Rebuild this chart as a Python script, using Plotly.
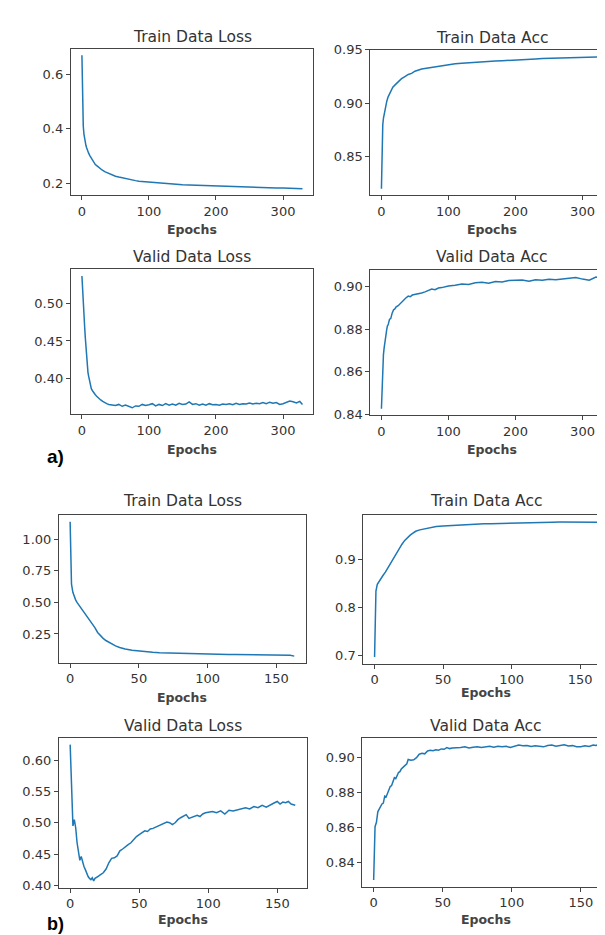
import plotly.graph_objects as go

# ---------------- data: panel a ----------------
a_train_loss_ep = [0,1,2,3,4,5,6,7,8,10,12,14,16,18,20,23,26,30,34,38,42,46,50,55,60,65,70,75,80,85,90,95,100,
                   110,120,130,140,150,160,170,180,190,200,210,220,230,240,250,260,270,280,290,300,310,320,329]
a_train_loss = [0.670,0.460,0.410,0.380,0.362,0.350,0.338,0.330,0.322,0.310,0.300,0.291,0.283,0.276,0.268,
                0.262,0.255,0.248,0.242,0.237,0.233,0.229,0.225,0.222,0.219,0.216,0.213,0.211,0.209,0.207,
                0.206,0.204,0.202,0.200,0.198,0.197,0.195,0.194,0.193,0.192,0.191,0.190,0.189,0.188,0.188,
                0.186,0.186,0.185,0.184,0.184,0.183,0.182,0.182,0.181,0.180,0.179]

a_train_acc_ep = [0,1,2,3,4,5,6,8,10,12,14,17,20,25,30,35,40,45,50,60,70,80,90,100,110,120,130,140,150,160,
                  170,180,190,200,210,220,230,240,250,260,270,280,290,300,310,320,329]
a_train_acc = [0.820,0.868,0.880,0.886,0.890,0.894,0.897,0.902,0.906,0.909,0.912,0.915,0.917,0.920,0.923,
               0.925,0.927,0.928,0.930,0.932,0.933,0.9345,0.9355,0.936,0.937,0.9375,0.938,0.9385,0.939,
               0.9393,0.9395,0.9398,0.940,0.9405,0.941,0.9412,0.9415,0.9418,0.942,0.9423,0.9425,0.9428,
               0.943,0.9432,0.9433,0.9436,0.9434]

a_valid_loss_ep = [0,1,2,3,4,5,6,7,8,9,10,12,14,16,18,20,22,25,28,31,34,37,40,
                   45,50,55,60,65,70,75,80,85,90,95,100,105,110,115,120,125,130,135,140,145,150,155,160,
                   165,170,175,180,185,190,195,200,205,210,215,220,225,230,235,240,245,250,255,260,265,
                   270,275,280,285,290,295,300,305,310,315,320,325,329]
a_valid_loss = [0.537,0.515,0.500,0.488,0.470,0.455,0.440,0.425,0.414,0.408,0.403,0.394,0.386,0.383,0.380,
                0.378,0.376,0.373,0.371,0.369,0.367,0.366,0.365,
                0.364,0.3635,0.365,0.3625,0.364,0.3625,0.3605,0.363,0.3625,0.365,0.3635,0.3645,0.366,
                0.363,0.365,0.3635,0.366,0.364,0.3655,0.364,0.3665,0.365,0.3655,0.3685,
                0.365,0.366,0.364,0.3655,0.364,0.366,0.3645,0.365,0.364,0.3655,0.365,0.366,0.3645,
                0.3665,0.365,0.366,0.3655,0.367,0.3655,0.3665,0.366,
                0.3675,0.366,0.368,0.3665,0.3675,0.365,0.366,0.3675,0.3695,0.3685,0.367,0.369,0.365]

a_valid_acc_ep = [0,1,2,3,4,5,6,7,8,9,10,12,14,16,18,20,22,25,28,30,33,36,40,43,46,50,
                  55,60,65,70,75,80,85,90,95,100,110,120,130,140,150,160,170,180,190,200,210,220,230,
                  240,250,260,270,280,290,300,310,320,329]
a_valid_acc = [0.8425,0.856,0.864,0.868,0.871,0.874,0.876,0.878,0.880,0.8815,0.882,
               0.8845,0.885,0.8875,0.889,0.8895,0.8905,0.891,0.892,0.893,0.8935,0.8945,0.8955,0.8952,0.896,0.8962,
               0.8968,0.897,0.8975,0.8982,0.8988,0.8985,0.8993,0.8995,0.9,0.9003,
               0.9006,0.9012,0.9010,0.9018,0.902,0.9016,0.9024,0.9022,0.9028,0.9028,0.9031,0.9025,0.9032,
               0.9030,0.9034,0.9032,0.9036,0.9038,0.9042,0.9035,0.9030,0.9045,0.9040]

# ---------------- data: panel b ----------------
b_train_ep = [0,1,2,3,4,5,6,8,10,12,14,16,18,20,22,24,26,28,30,33,36,40,45,50,55,60,65,70,75,80,85,90,95,
              100,105,110,115,120,125,130,135,140,145,150,155,160,163]
b_train_loss = [1.14,0.645,0.58,0.545,0.52,0.50,0.485,0.455,0.425,0.395,0.365,0.335,0.300,0.262,0.235,
                0.215,0.198,0.185,0.170,0.155,0.143,0.130,0.120,0.113,0.108,0.104,0.101,0.099,0.097,0.096,
                0.094,0.093,0.092,0.090,0.089,0.088,0.087,0.087,0.086,0.085,0.084,0.083,0.083,0.082,0.080,
                0.081,0.074]
b_train_acc = [0.696,0.834,0.848,0.853,0.858,0.862,0.866,0.874,0.884,0.893,0.903,0.912,0.922,0.932,0.940,
               0.946,0.951,0.955,0.959,0.962,0.964,0.967,0.969,0.970,0.971,0.972,0.973,0.9735,0.974,0.9745,
               0.975,0.9755,0.976,0.9765,0.9768,0.977,0.9772,0.9775,0.9776,0.978,0.9782,0.9784,0.9786,
               0.9788,0.9785,0.979,0.978]

b_valid_loss_ep = [0,1,2,3,4,5,6,7,8,9,10,11,12,13,14,15,16,17,18,19,20,
                   22,24,26,28,30,32,34,36,38,40,42,44,46,48,50,52,54,56,58,60,62,64,66,68,70,72,74,76,78,
                   80,82,84,86,88,90,92,94,96,98,100,
                   103,106,109,112,115,118,121,124,127,130,133,136,139,142,145,148,
                   150,152,154,156,158,160,163]
b_valid_loss = [0.625,0.560,0.495,0.505,0.492,0.468,0.455,0.440,0.446,0.436,0.430,0.425,0.419,0.414,0.411,
                0.409,0.412,0.407,0.411,0.412,0.414,
                0.417,0.420,0.426,0.436,0.443,0.444,0.447,0.455,0.458,0.462,0.465,0.468,0.474,0.478,0.481,
                0.484,0.487,0.486,0.490,0.491,0.493,0.495,0.497,0.499,0.501,0.500,0.497,0.500,0.505,
                0.508,0.511,0.513,0.507,0.509,0.511,0.512,0.510,0.514,0.516,0.517,
                0.518,0.516,0.519,0.514,0.520,0.519,0.521,0.523,0.524,0.522,0.526,0.524,0.528,0.525,0.529,0.532,
                0.534,0.530,0.533,0.532,0.534,0.530,0.528]

b_valid_acc_ep = [0,1,2,3,4,5,6,7,8,9,10,11,12,13,14,15,16,17,18,19,20,22,24,25,27,29,31,33,35,37,39,41,43,
                  45,47,49,51,53,55,57,60,63,66,69,72,75,78,81,84,87,90,93,96,99,102,105,108,111,114,117,
                  120,123,126,129,132,135,138,141,144,147,150,153,156,159,161,163]
b_valid_acc = [0.830,0.8605,0.863,0.869,0.8705,0.872,0.8735,0.874,0.878,0.8775,0.8795,0.882,0.8835,0.884,
               0.886,0.8885,0.888,0.890,0.8915,0.892,0.8935,0.895,0.8965,0.899,0.8985,0.8988,0.900,0.902,
               0.9025,0.9022,0.9038,0.9042,0.904,0.9045,0.9043,0.905,0.9048,0.9058,0.9052,0.9056,0.9055,
               0.9058,0.9062,0.9055,0.906,0.9063,0.9058,0.9062,0.9065,0.906,0.9066,0.9062,0.9065,0.9058,
               0.9064,0.9072,0.9068,0.907,0.9064,0.9068,0.9066,0.9062,0.907,0.9072,0.9066,0.9068,0.9074,
               0.9067,0.9069,0.9063,0.9062,0.9068,0.9064,0.9072,0.907,0.9075]

# ---------------- tick labels ----------------
ticks_x_a = [0, 100, 200, 300]
ticks_x_b = [0, 50, 100, 150]
ticks_y = [
    ([0.2, 0.4, 0.6], ["0.2", "0.4", "0.6"]),
    ([0.85, 0.90, 0.95], ["0.85", "0.90", "0.95"]),
    ([0.35, 0.40, 0.45, 0.50], ["0.35", "0.40", "0.45", "0.50"]),
    ([0.84, 0.86, 0.88, 0.90], ["0.84", "0.86", "0.88", "0.90"]),
    ([0.25, 0.50, 0.75, 1.00], ["0.25", "0.50", "0.75", "1.00"]),
    ([0.7, 0.8, 0.9], ["0.7", "0.8", "0.9"]),
    ([0.40, 0.45, 0.50, 0.55, 0.60], ["0.40", "0.45", "0.50", "0.55", "0.60"]),
    ([0.84, 0.86, 0.88, 0.90], ["0.84", "0.86", "0.88", "0.90"]),
]
titles = ["Train Data Loss", "Train Data Acc", "Valid Data Loss", "Valid Data Acc",
          "Train Data Loss", "Train Data Acc", "Valid Data Loss", "Valid Data Acc"]

series = [
    (a_train_loss_ep, a_train_loss), (a_train_acc_ep, a_train_acc),
    (a_valid_loss_ep, a_valid_loss), (a_valid_acc_ep, a_valid_acc),
    (b_train_ep, b_train_loss), (b_train_ep, b_train_acc),
    (b_valid_loss_ep, b_valid_loss), (b_valid_acc_ep, b_valid_acc),
]
for xs, ys in series:
    assert len(xs) == len(ys), (len(xs), len(ys))

# ---------------- layout (pixel boxes) ----------------
W, H = 605, 935
boxes = [  # x0, x1, y0(top), y1(bottom)
    (63, 306, 34, 183), (363, 606, 35, 183),
    (63, 306, 258, 405), (363, 606, 259, 406),
    (51, 298, 507, 657), (356, 602, 507, 658),
    (51, 299, 733, 885), (355, 603, 733, 884),
]
y_top_override = [None, 0.9503, None, None, None, None, None, None]
title_y = [22, 23, 245, 245, 493, 493, 721, 721]
epochs_y = [218, 218, 441, 441, 692, 687, 917, 917]

FONT = "DejaVu Sans"
TXT = "#333333"
LINE = "#1f77b4"

fig = go.Figure()
layout = dict(width=W, height=H, margin=dict(l=0, r=0, t=0, b=0),
              paper_bgcolor="white", plot_bgcolor="white", showlegend=False,
              font=dict(family=FONT, color=TXT))
annotations = []

def pad(lo, hi):
    d = (hi - lo) * 0.05
    return [lo - d, hi + d]

for i, ((xs, ys), (x0, x1, yt, yb)) in enumerate(zip(series, boxes)):
    n = i + 1
    xa = "x" if n == 1 else f"x{n}"
    ya = "y" if n == 1 else f"y{n}"
    fig.add_trace(go.Scatter(x=xs, y=ys, mode="lines", line=dict(color=LINE, width=1.5),
                             xaxis=xa, yaxis=ya, hoverinfo="skip"))
    common = dict(showline=True, mirror=True, linecolor="#444444", linewidth=1,
                  ticks="outside", ticklen=4, tickcolor="#444444", showgrid=False, zeroline=False,
                  tickfont=dict(family=FONT, size=13, color=TXT))
    # axis extents in pixels may exceed the canvas (the reference is cropped on the right)
    xr = pad(min(xs), max(xs))
    d1 = min(x1 / W, 1.0)
    if x1 > W:
        xr[1] = xr[0] + (xr[1] - xr[0]) * (W - x0) / (x1 - x0)
    layout["xaxis" if n == 1 else f"xaxis{n}"] = dict(
        domain=[x0 / W, d1], anchor=ya, range=xr, tickmode="array",
        tickvals=ticks_x_a if i < 4 else ticks_x_b, **common)
    tv, tt = ticks_y[i]
    yr = pad(min(ys), max(ys))
    if y_top_override[i] is not None:
        yr[1] = y_top_override[i]
    layout["yaxis" if n == 1 else f"yaxis{n}"] = dict(
        domain=[1 - yb / H, 1 - yt / H], anchor=xa,
        range=yr, tickmode="array", tickvals=tv, ticktext=tt, **common)
    cx = (x0 + x1) / 2 / W
    annotations.append(dict(text=titles[i], x=cx, y=1 - title_y[i] / H, xref="paper", yref="paper",
                            showarrow=False, xanchor="center", yanchor="middle",
                            font=dict(family=FONT, size=15.5, color=TXT)))
    annotations.append(dict(text="<b>Epochs</b>", x=cx, y=1 - epochs_y[i] / H, xref="paper", yref="paper",
                            showarrow=False, xanchor="center", yanchor="middle",
                            font=dict(family=FONT, size=12.5, color="#444444")))

annotations.append(dict(text="<b>a)</b>", x=37 / W, y=1 - 448 / H, xref="paper", yref="paper",
                        showarrow=False, xanchor="left", yanchor="middle",
                        font=dict(family="Liberation Sans", size=19, color="black")))
annotations.append(dict(text="<b>b)</b>", x=37 / W, y=1 - 922 / H, xref="paper", yref="paper",
                        showarrow=False, xanchor="left", yanchor="middle",
                        font=dict(family="Liberation Sans", size=18, color="black")))
layout["annotations"] = annotations
fig.update_layout(**layout)
fig.write_html("out.html")
